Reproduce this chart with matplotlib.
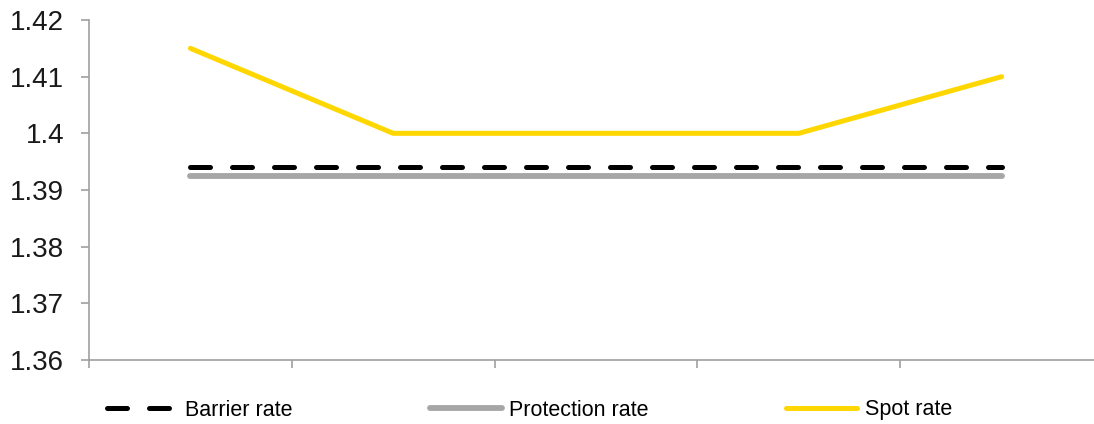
import numpy as np
import matplotlib.pyplot as plt
from matplotlib import font_manager

names = {f.name for f in font_manager.fontManager.ttflist}
family = 'Liberation Sans Narrow' if 'Liberation Sans Narrow' in names else 'Liberation Sans'
plt.rcParams['font.family'] = [family, 'DejaVu Sans']

periods = [1, 2, 3, 4, 5]
barrier_rate = [1.394, 1.394, 1.394, 1.394, 1.394]
protection_rate = [1.3925, 1.3925, 1.3925, 1.3925, 1.3925]
spot_rate = [1.415, 1.40, 1.40, 1.40, 1.41]
y_ticks = [1.36, 1.37, 1.38, 1.39, 1.40, 1.41, 1.42]
y_labels = ['1.36', '1.37', '1.38', '1.39', '1.4', '1.41', '1.42']

W, H = 1094, 424
fig = plt.figure(figsize=(W / 100, H / 100), dpi=100)
ax = fig.add_axes([89 / W, (H - 360) / H, (1103 - 89) / W, 340 / H])

x = np.arange(len(periods))
ax.plot(x, barrier_rate, color='black', lw=3.6, linestyle=(0, (4.0, 4.4)),
        dash_capstyle='round', solid_capstyle='round', label='Barrier rate')
ax.plot(x, protection_rate, color='#a6a6a6', lw=4.2, solid_capstyle='round',
        label='Protection rate')
ax.plot(x, spot_rate, color='#ffd700', lw=3.6, solid_capstyle='round',
        solid_joinstyle='miter', label='Spot rate')

ax.set_xlim(-0.5, len(periods) - 0.5)
ax.set_ylim(1.36, 1.42)
ax.set_yticks(y_ticks)
ax.set_yticklabels(y_labels, fontsize=20, color='#1a1a1a')
ax.set_xticks(np.arange(-0.5, len(periods), 1.0))
ax.set_xticklabels([])

for side in ['top', 'right']:
    ax.spines[side].set_visible(False)
for side in ['left', 'bottom']:
    ax.spines[side].set_color('#a0a0a0')
    ax.spines[side].set_linewidth(1.2)
ax.tick_params(axis='y', length=6, width=1.2, color='#a0a0a0', pad=12)
ax.tick_params(axis='x', length=6, width=1.2, color='#a0a0a0')

leg = fig.legend(loc='center left', bbox_to_anchor=(98 / W, 1 - 410 / H), ncol=3,
                 frameon=False, fontsize=15.5, handlelength=3.3, handletextpad=0.35,
                 columnspacing=6.4, borderaxespad=0)

fig.savefig('out.png', dpi=100)
